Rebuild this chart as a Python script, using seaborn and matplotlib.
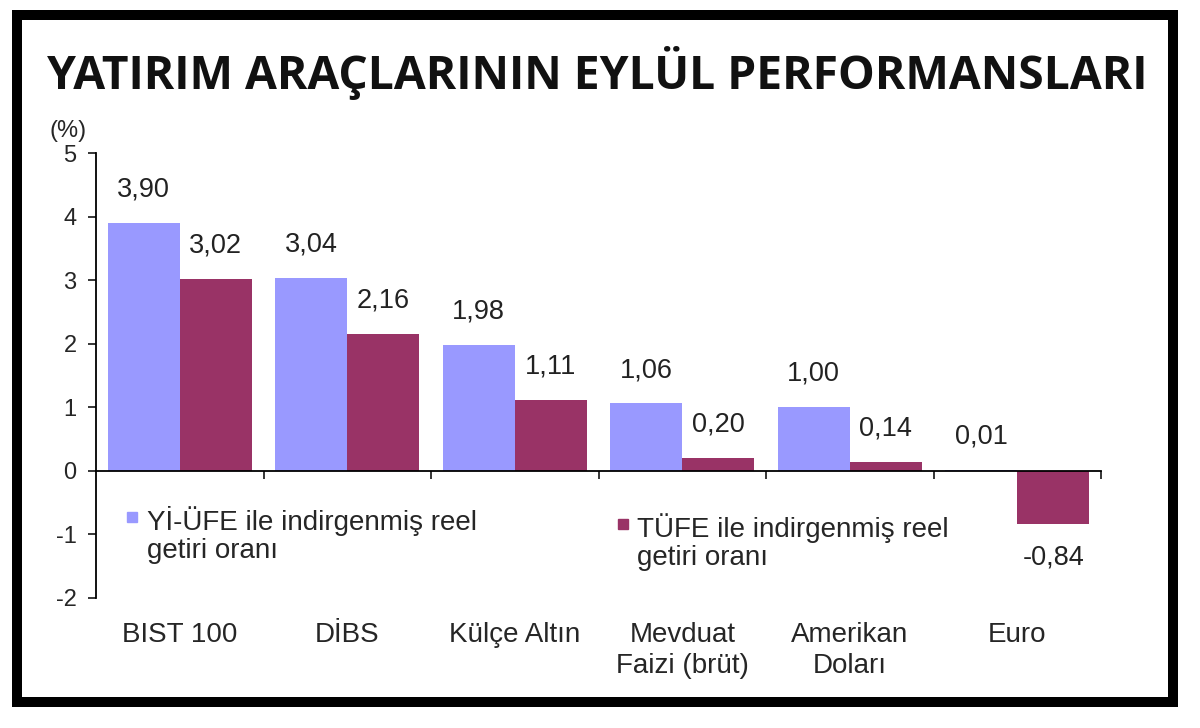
import numpy as np
import pandas as pd
import seaborn as sns
import matplotlib.pyplot as plt
from matplotlib.patches import Rectangle
from matplotlib.lines import Line2D

categories = ["BIST 100", "DİBS", "Külçe Altın", "Mevduat\nFaizi (brüt)",
              "Amerikan\nDoları", "Euro"]
series = ["Yİ-ÜFE ile indirgenmiş reel\ngetiri oranı",
          "TÜFE ile indirgenmiş reel\ngetiri oranı"]
yi_ufe = [3.90, 3.04, 1.98, 1.06, 1.00, 0.01]
tufe = [3.02, 2.16, 1.11, 0.20, 0.14, -0.84]
colors = ["#9999FF", "#993366"]

df = pd.DataFrame({
    "cat": categories * 2,
    "series": [series[0]] * len(categories) + [series[1]] * len(categories),
    "val": yi_ufe + tufe,
})

sns.set_style("white")
plt.rcParams['font.family'] = ['Liberation Sans', 'DejaVu Sans']
plt.rcParams['axes.unicode_minus'] = False

fig = plt.figure(figsize=(12, 7.28), dpi=100)
ax = fig.add_axes([0.08, 0.1786, 0.8375, 0.6112])

sns.barplot(data=df, x="cat", y="val", hue="series", palette=colors,
            width=0.86, saturation=1, edgecolor="none", ax=ax, legend=False)

ax.set_xlim(-0.5, 5.5)
ax.set_ylim(-2, 5)
ax.set_yticks(range(-2, 6))
ax.set_yticklabels([str(v) for v in range(-2, 6)])
ax.tick_params(axis='y', direction='out', length=6, width=1.3, labelsize=17,
               left=True, pad=8)
ax.spines['top'].set_visible(False)
ax.spines['right'].set_visible(False)
ax.spines['left'].set_linewidth(1.3)
ax.spines['bottom'].set_position(('data', 0))
ax.spines['bottom'].set_linewidth(1.3)
for s in ['left', 'bottom']:
    ax.spines[s].set_color('black')

ax.set_xticks(np.arange(len(categories)))
ax.set_xticklabels(categories, fontsize=20, linespacing=1.25, va='top')
ax.tick_params(axis='x', which='major', length=0, pad=109)
ax.set_xticks(np.arange(len(categories)) + 0.5, minor=True)
ax.tick_params(axis='x', which='minor', direction='out', length=6, width=1.3,
               bottom=True)
ax.set_xlabel("")
ax.set_ylabel("")

# value labels
for cont in ax.containers:
    for bar in cont:
        v = bar.get_height()
        x = bar.get_x() + bar.get_width() / 2
        off = 24 if v >= 0 else -24
        ax.annotate(f"{v:.2f}".replace('.', ','), (x, v), xytext=(0, off),
                    textcoords='offset points', ha='center', va='center',
                    fontsize=19.5, color='#222222')


# legends: marker sits beside the first line of the label
def make_legend(color, label, anchor):
    h = Line2D([], [], marker='s', color=color, linestyle='none', markersize=6.5)
    leg = ax.legend(handles=[h], labels=[label], bbox_to_anchor=anchor,
                    loc='upper left', frameon=False, fontsize=20,
                    handlelength=0.45, handleheight=1.0, handletextpad=0.3,
                    borderpad=0, borderaxespad=0)
    for t in leg.get_texts():
        t.set_linespacing(1.1)
    for col in leg._legend_handle_box.get_children():
        for item in col.get_children():
            item.align = 'top'
    return leg


leg1 = make_legend(colors[0], series[0], (0.03, 0.207))
ax.add_artist(leg1)
leg2 = make_legend(colors[1], series[1], (0.518, 0.191))

ax.text(-0.028, 1.05, "(%)", transform=ax.transAxes, fontsize=17,
        ha='center', va='center')

fig.text(0.498, 0.9, "YATIRIM ARAÇLARININ EYLÜL PERFORMANSLARI",
         ha='center', va='center', fontsize=33.3, fontweight='bold',
         family=['Open Sans', 'DejaVu Sans'], color='#111111')

fig.patches.append(Rectangle((17 / 1200, 1 - 702 / 728), 1156 / 1200, 687 / 728,
                             transform=fig.transFigure, fill=False,
                             edgecolor='black', linewidth=7.2))

fig.savefig("out.png", dpi=100)
